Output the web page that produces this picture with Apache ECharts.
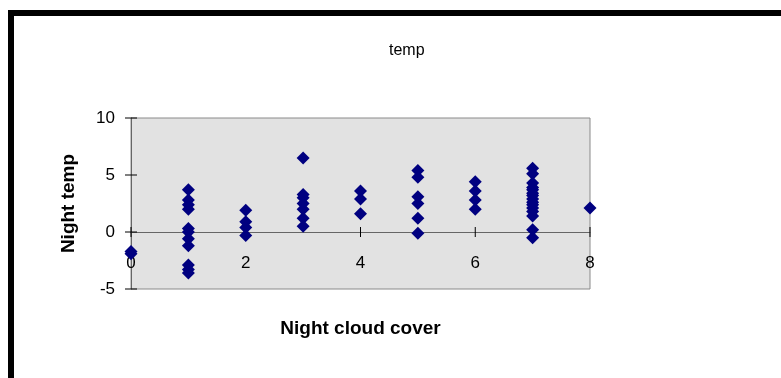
<!DOCTYPE html>
<html>
<head>
<meta charset="utf-8">
<script src="https://cdn.jsdelivr.net/npm/echarts@6/dist/echarts.min.js"></script>
<style>
  html, body { margin: 0; padding: 0; background: #fff; }
  #chart { width: 781px; height: 378px; }
</style>
</head>
<body>
<div id="chart"></div>
<script>
// Night cloud cover (oktas) and the night temperatures recorded at each level
const coverLevels = [0, 1, 2, 3, 4, 5, 6, 7, 8];
const temps0 = [-1.7, -1.9];
const temps1 = [3.7, 2.8, 2.4, 2.0, 0.3, 0.0, -0.6, -1.2, -2.9, -3.3, -3.6];
const temps2 = [1.9, 0.9, 0.4, -0.3];
const temps3 = [6.5, 3.3, 3.0, 2.5, 2.0, 1.2, 0.5];
const temps4 = [3.6, 2.9, 1.6];
const temps5 = [5.4, 4.8, 3.1, 2.5, 1.2, -0.1];
const temps6 = [4.4, 3.6, 2.8, 2.0];
const temps7 = [5.6, 5.1, 4.3, 3.9, 3.7, 3.4, 3.2, 2.9, 2.6, 2.4, 2.1, 1.8, 1.4, 0.2, -0.5];
const temps8 = [2.1];
const tempsByCover = [temps0, temps1, temps2, temps3, temps4, temps5, temps6, temps7, temps8];

const xTickValues = [0, 2, 4, 6, 8];
const yTickValues = [-5, 0, 5, 10];
const xTicks = { min: 0, max: 8, interval: 2 };
const yTicks = { min: -5, max: 10, interval: 5 };

const points = [];
coverLevels.forEach((c, i) => {
  tempsByCover[i].forEach(t => points.push([c, t]));
});

const chart = echarts.init(document.getElementById('chart'));
const axisGrey = '#666';
const font = 'Liberation Sans, Arial, sans-serif';

chart.setOption({
  animation: false,
  title: {
    text: 'temp',
    left: 384,
    top: 38,
    textStyle: { fontFamily: font, fontSize: 16, fontWeight: 'normal', color: '#000' }
  },
  grid: {
    left: 131, top: 118, width: 459, height: 171,
    containLabel: false,
    outerBoundsMode: 'none',
    show: true,
    backgroundColor: '#e2e2e2',
    borderColor: '#8a8a8a',
    borderWidth: 1
  },
  xAxis: {
    type: 'value',
    min: xTicks.min, max: xTicks.max, interval: xTicks.interval,
    name: 'Night cloud cover',
    nameLocation: 'middle',
    nameGap: 30,
    nameTextStyle: { fontFamily: font, fontSize: 19, fontWeight: 'bold', color: '#000' },
    axisLine: { onZero: true, lineStyle: { color: axisGrey, width: 1 } },
    axisTick: { show: false },
    axisLabel: { margin: -34, fontFamily: font, fontSize: 17, color: '#000' },
    splitLine: { show: false }
  },
  yAxis: {
    type: 'value',
    min: yTicks.min, max: yTicks.max, interval: yTicks.interval,
    name: 'Night temp',
    nameLocation: 'middle',
    nameGap: 53,
    nameRotate: 90,
    nameTextStyle: { fontFamily: font, fontSize: 19, fontWeight: 'bold', color: '#000' },
    axisLine: { show: true, onZero: false, lineStyle: { color: axisGrey, width: 1 } },
    axisTick: { show: false },
    axisLabel: { margin: 16, fontFamily: font, fontSize: 17, color: '#000' },
    splitLine: { show: false }
  },
  series: [
    {
      // cross-style tick marks on the horizontal axis at y = 0
      type: 'custom',
      silent: true,
      z: 1,
      data: xTickValues.map(v => [v, 0]),
      renderItem: function (params, api) {
        const p = api.coord([api.value(0), api.value(1)]);
        return {
          type: 'line',
          shape: { x1: p[0], y1: p[1] - 5, x2: p[0], y2: p[1] + 5 },
          style: { stroke: '#000', lineWidth: 1 }
        };
      }
    },
    {
      // cross-style tick marks on the vertical axis at x = 0
      type: 'custom',
      silent: true,
      z: 1,
      clip: false,
      data: yTickValues.map(v => [0, v]),
      renderItem: function (params, api) {
        const p = api.coord([api.value(0), api.value(1)]);
        return {
          type: 'line',
          shape: { x1: p[0] - 6, y1: p[1], x2: p[0] + 6, y2: p[1] },
          style: { stroke: '#000', lineWidth: 1 }
        };
      }
    },
    {
      type: 'scatter',
      symbol: 'diamond',
      symbolSize: 13,
      z: 3,
      itemStyle: { color: '#000080', opacity: 1 },
      data: points
    }
  ],
  graphic: [
    { type: 'rect', shape: { x: 8, y: 10, width: 780, height: 6 }, style: { fill: '#000' } },
    { type: 'rect', shape: { x: 8, y: 10, width: 6, height: 370 }, style: { fill: '#000' } }
  ]
});
</script>
</body>
</html>
